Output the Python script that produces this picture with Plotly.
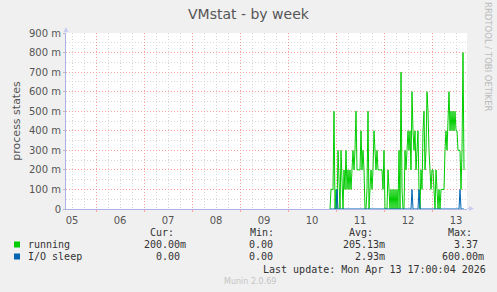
import pandas as pd
import plotly.graph_objects as go

# ---- data (values in process-count units) ----
start_time = "2026-04-10 21:00"
step = "30min"
running = [0, 0.1, 0.1, 0.1, 0.5, 0, 0.1, 0, 0.3, 0.1,
           0, 0.3, 0.1, 0, 0.2, 0.1, 0.3, 0.1, 0.2, 0.1,
           0.2, 0.1, 0.2, 0.3, 0.2, 0.3, 0.5, 0.2, 0.2, 0.2,
           0.2, 0.4, 0.2, 0.3, 0.2, 0, 0, 0.1, 0.5, 0,
           0.1, 0.2, 0.1, 0.2, 0.4, 0.3, 0.2, 0.3, 0.2, 0.2,
           0.2, 0.2, 0.2, 0.1, 0.3, 0, 0, 0, 0.2, 0.1,
           0, 0.1, 0, 0.1, 0, 0.1, 0, 0.1, 0, 0.3,
           0, 0.7, 0.1, 0, 0, 0.3, 0.2, 0.3, 0.4, 0.3,
           0.4, 0.2, 0.6, 0.4, 0.3, 0.4, 0.2, 0.3, 0.4, 0.1,
           0, 0.2, 0.1, 0.4, 0.5, 0.2, 0.3, 0.6, 0.5, 0.3,
           0.2, 0.1, 0.2, 0.2, 0.1, 0, 0.2, 0.1, 0, 0.1,
           0, 0.1, 0.1, 0.1, 0.1, 0.3, 0.4, 0.3, 0.5, 0.6,
           0.4, 0.5, 0.4, 0.5, 0.4, 0.5, 0.4, 0.4, 0.3, 0.3,
           0.3, 0.1, 0.3, 0.8, 0.2]
io_sleep = [0] * 135
for i in (7, 82, 89, 130):
    io_sleep[i] = 0.1

series_names = ["running", "I/O sleep"]
series_colors = ["#00cc00", "#0066b3"]
cur_vals = ["200.00m", "0.00"]
min_vals = ["0.00", "0.00"]
avg_vals = ["205.13m", "2.93m"]
max_vals = ["3.37", "600.00m"]

y_tickvals = [0, 0.1, 0.2, 0.3, 0.4, 0.5, 0.6, 0.7, 0.8, 0.9]
y_ticktext = ["0", "100 m", "200 m", "300 m", "400 m", "500 m",
              "600 m", "700 m", "800 m", "900 m"]
day_labels = ["05", "06", "07", "08", "09", "10", "11", "12", "13"]
x_range = ["2026-04-05 09:00", "2026-04-13 17:30"]

times = pd.date_range(start_time, periods=len(running), freq=step)
noons = pd.date_range("2026-04-05 12:00", periods=len(day_labels), freq="1D")
midnights = pd.date_range("2026-04-06", periods=8, freq="1D")

W, H = 497, 292
L, R, T, B = 66, 30, 33, 83
PW, PH = W - L - R, H - T - B


def px(x):
    return (x - L) / PW


def py(y):
    return (H - B - y) / PH


fig = go.Figure()
fig.add_trace(go.Scatter(x=times, y=running, mode="lines",
                         line=dict(color=series_colors[0], width=1),
                         name=series_names[0], xaxis="x", yaxis="y"))
fig.add_trace(go.Scatter(x=times, y=io_sleep, mode="lines",
                         line=dict(color=series_colors[1], width=1),
                         name=series_names[1], xaxis="x", yaxis="y"))

red = "#ffa0a0"
gray = "#d6d6d6"
axis_col = "#aab2e6"
fig.update_layout(
    width=W, height=H,
    margin=dict(l=L, r=R, t=T, b=B),
    paper_bgcolor="#f0f0f0", plot_bgcolor="#ffffff",
    showlegend=False,
    font=dict(family="DejaVu Sans", size=10, color="#555555"),
    xaxis=dict(type="date", range=x_range, tickvals=midnights,
               showticklabels=False, ticks="outside", ticklen=2,
               tickcolor=red, showgrid=True, gridcolor=red,
               griddash="1px,2px", gridwidth=1, zeroline=False,
               showline=True, linecolor=axis_col, linewidth=1,
               minor=dict(dtick=6 * 3600 * 1000, tick0="2026-04-05",
                          showgrid=True, gridcolor=gray,
                          griddash="1px,2px", gridwidth=1)),
    xaxis2=dict(type="date", range=x_range, overlaying="x", side="bottom",
                tickvals=noons, ticktext=day_labels, showgrid=False,
                ticks="outside", ticklen=2, tickcolor="rgba(0,0,0,0)",
                zeroline=False, showline=False,
                tickfont=dict(size=10, color="#555555")),
    yaxis=dict(range=[0, 0.9], tickvals=y_tickvals, ticktext=y_ticktext,
               showgrid=True, gridcolor=red, griddash="1px,2px",
               gridwidth=1, zeroline=False, ticks="outside", ticklen=2,
               tickcolor="#bbbbbb", showline=True, linecolor=axis_col,
               linewidth=1, tickfont=dict(size=10, color="#555555"),
               title=dict(text="process states", standoff=6,
                          font=dict(size=11, color="#555555")),
               minor=dict(dtick=0.05, showgrid=True, gridcolor=gray,
                          griddash="1px,2px", gridwidth=1)),
)
# dummy invisible trace so xaxis2 renders
fig.add_trace(go.Scatter(x=[times[0]], y=[None], xaxis="x2", yaxis="y",
                         showlegend=False, hoverinfo="skip"))

ann = []
ann.append(dict(text="VMstat - by week", x=px(249), xref="paper", y=py(14),
                yref="paper", xanchor="center", yanchor="middle",
                showarrow=False, font=dict(size=14, color="#555555")))
ann.append(dict(text="RRDTOOL / TOBI OETIKER", x=px(488), y=py(57),
                xref="paper", yref="paper", textangle=90, showarrow=False,
                xanchor="center", yanchor="middle", borderpad=0,
                font=dict(size=8.5, color="#bbbbbb")))
mono = dict(family="DejaVu Sans Mono", size=10, color="#333333")


def txt(s, x, y, font=mono):
    ann.append(dict(text=s, x=px(x), y=py(y), xref="paper", yref="paper",
                    xanchor="left", yanchor="middle", showarrow=False,
                    font=font, borderpad=0))


for s, x in zip(["Cur:", "Min:", "Avg:", "Max:"], [149, 249, 348, 447]):
    txt(s, x, 233)
row_y = [244.5, 256.5]
for i in range(2):
    txt(series_names[i], 27, row_y[i])
    for v, x_end in zip([cur_vals[i], min_vals[i], avg_vals[i], max_vals[i]],
                        [185, 278, 384, 483]):
        w = len(v) * 6.02 + (0 if v.endswith("m") else 6.02)
        txt(v, x_end - w, row_y[i])
txt("Last update: Mon Apr 13 17:00:04 2026", 262, 269)
txt("Munin 2.0.69", 223, 281,
    font=dict(family="DejaVu Sans", size=8, color="#c4c4c4"))

# axis arrows
ann.append(dict(x=px(66), y=py(27), xref="paper", yref="paper", ax=0, ay=7,
                showarrow=True, arrowhead=2, arrowsize=1, arrowwidth=1,
                arrowcolor="#c8ccf0", text=""))
ann.append(dict(x=px(474), y=py(208.5), xref="paper", yref="paper", ax=-8,
                ay=0, showarrow=True, arrowhead=2, arrowsize=1, arrowwidth=1,
                arrowcolor="#c8ccf0", text=""))

shapes = []
for i, c in enumerate(series_colors):
    y0 = row_y[i]
    shapes.append(dict(type="rect", xref="paper", yref="paper",
                       x0=px(14), x1=px(20), y0=py(y0 + 3), y1=py(y0 - 3),
                       fillcolor=c, line=dict(width=0)))
fig.update_layout(annotations=ann, shapes=shapes)

fig.write_html("out.html")
